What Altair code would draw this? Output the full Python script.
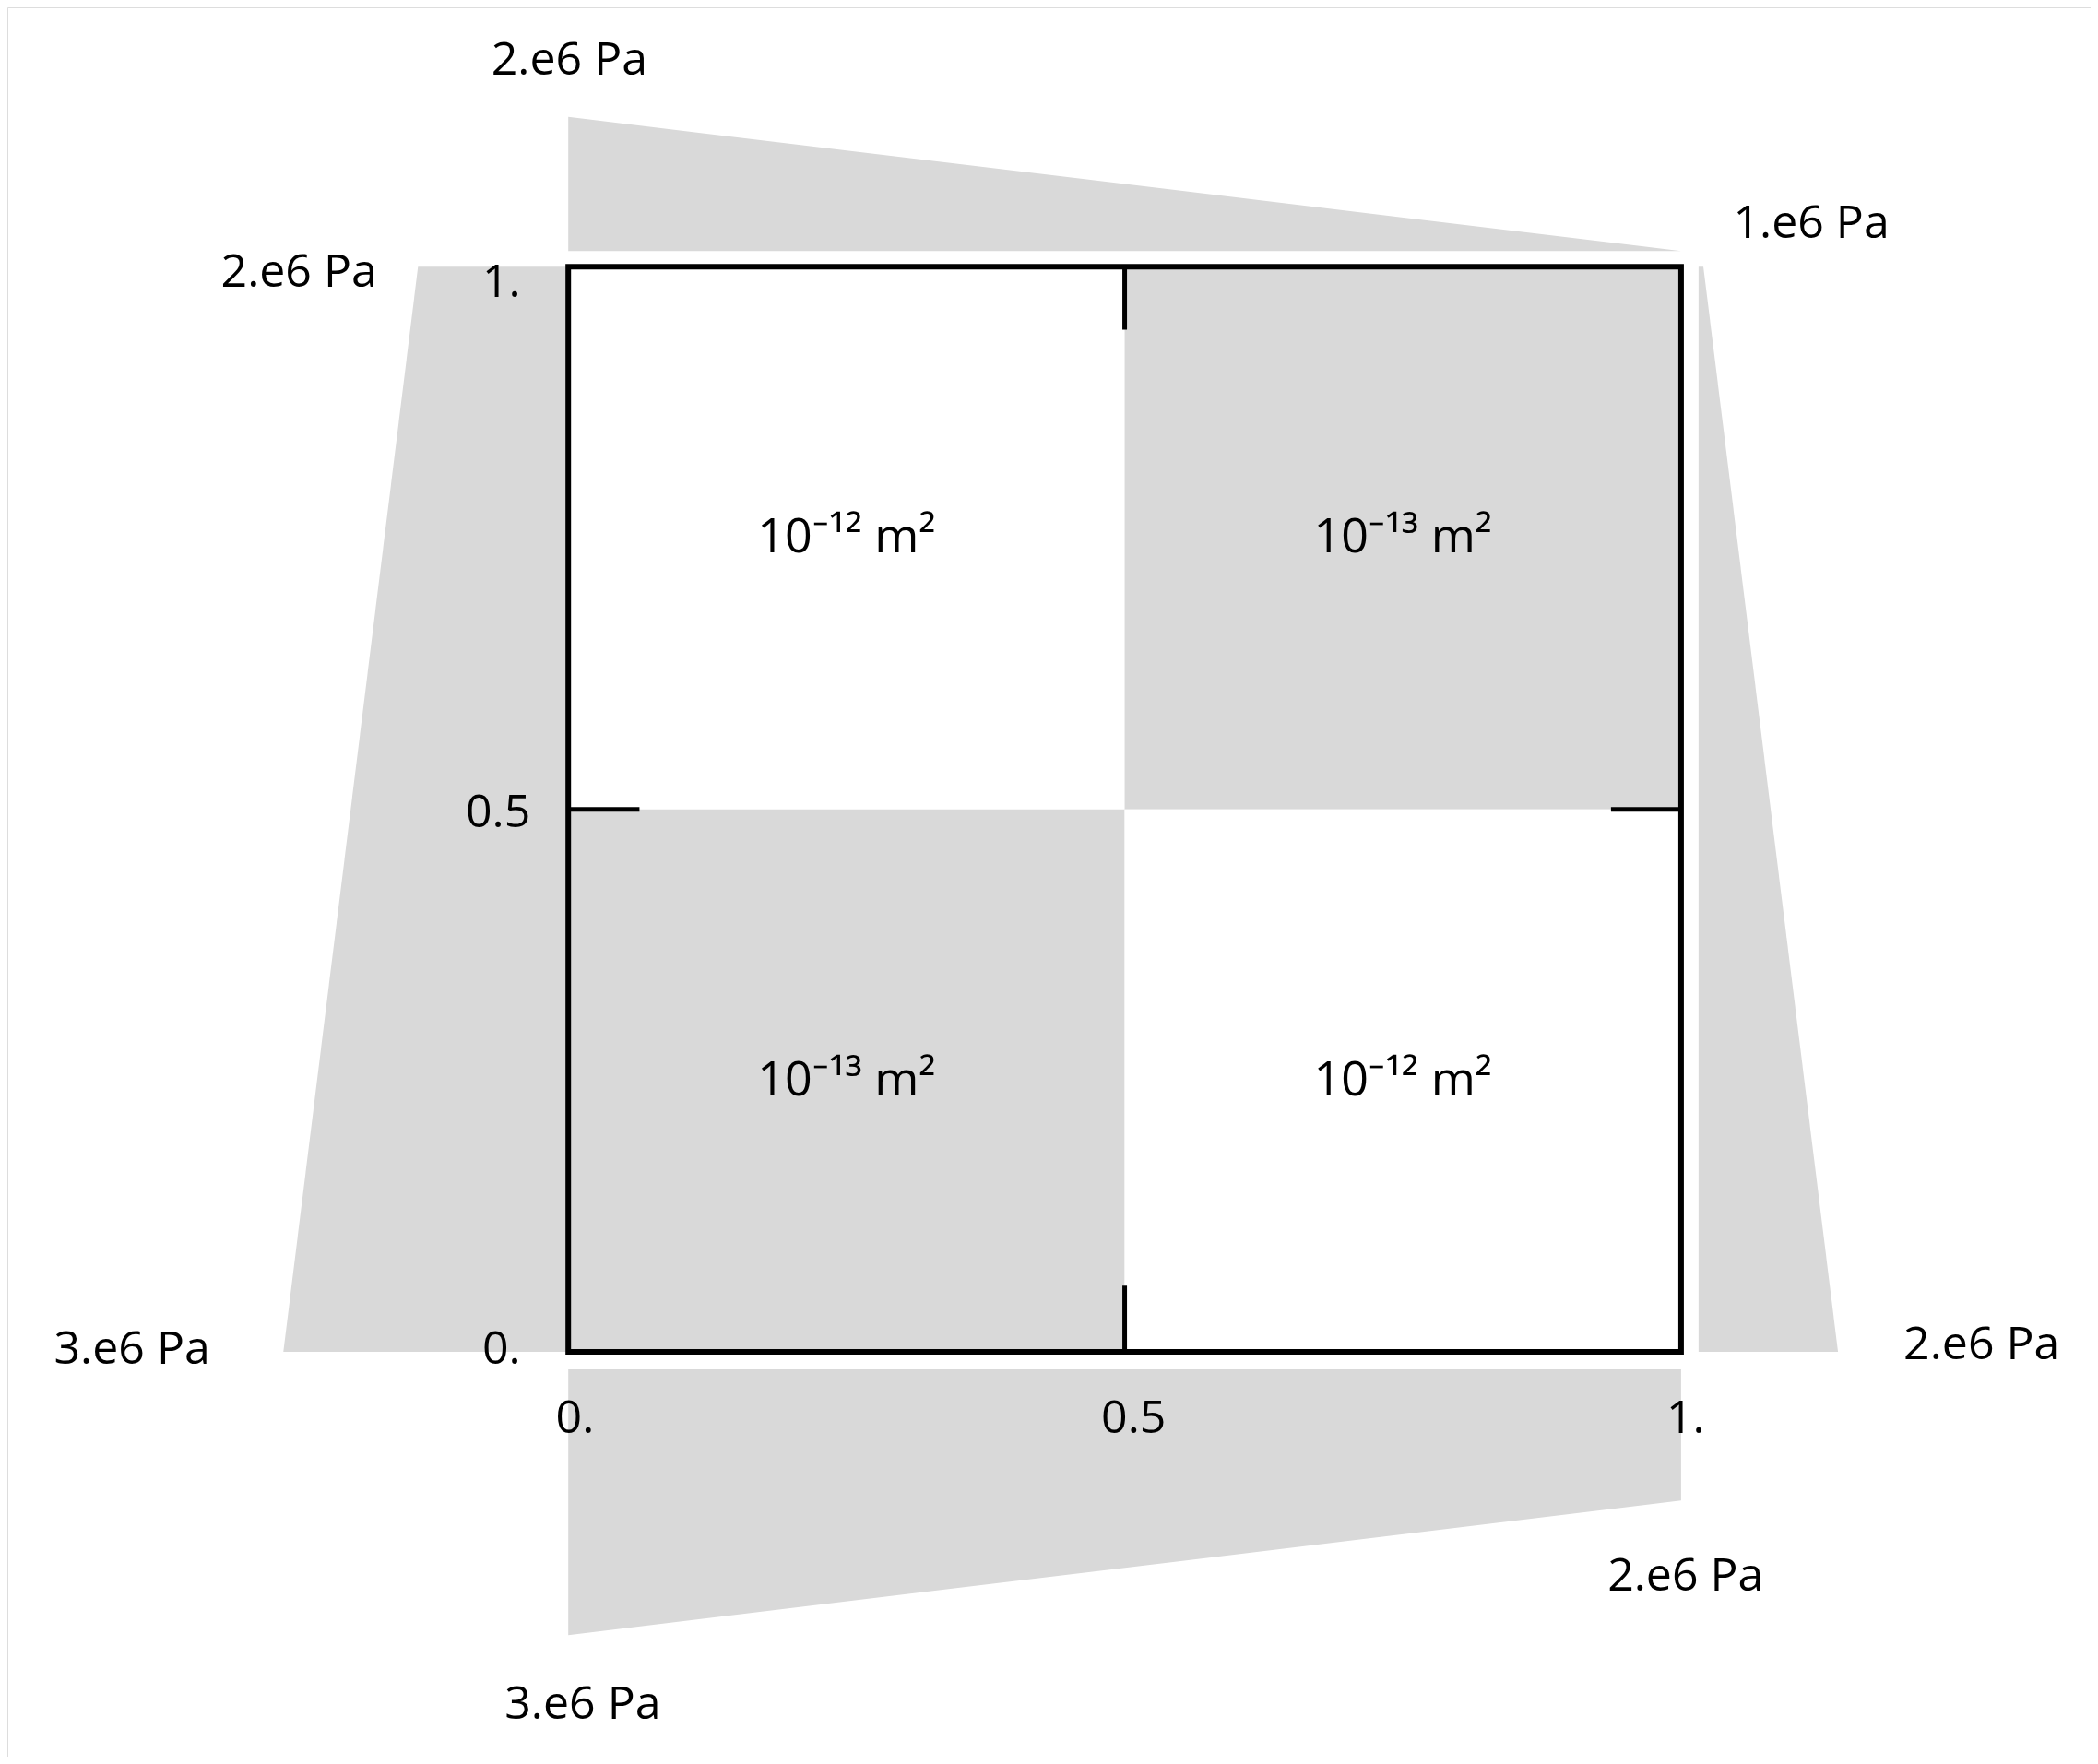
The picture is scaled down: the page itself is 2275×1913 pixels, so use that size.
import altair as alt
import pandas as pd

GREY = "#d9d9d9"
FONT = "Open Sans"

# Pressure boundary trapezoids (data units of the unit square)
top_x = [0.0, 1.0]; top_y = [1.138, 1.0145]; top_y2 = [1.0145, 1.0145]
bot_x = [0.0, 1.0]; bot_y = [-0.261, -0.137]; bot_y2 = [-0.016, -0.016]
left_y = [0.0, 1.0]; left_x = [-0.256, -0.135]; left_x2 = [0.0, 0.0]
right_y = [0.0, 1.0]; right_x = [1.0157, 1.0157]; right_x2 = [1.141, 1.02]

# Permeability quadrants
quad_x = [0.0, 0.5, 0.0, 0.5]
quad_x2 = [0.5, 1.0, 0.5, 1.0]
quad_y = [0.5, 0.5, 0.0, 0.0]
quad_y2 = [1.0, 1.0, 0.5, 0.5]
quad_fill = ["white", GREY, GREY, "white"]
quad_label = ["10⁻¹² m²", "10⁻¹³ m²", "10⁻¹³ m²", "10⁻¹² m²"]

# Pressure labels
p_label = ["2.e6 Pa", "1.e6 Pa", "2.e6 Pa", "3.e6 Pa", "2.e6 Pa", "2.e6 Pa", "3.e6 Pa"]
p_x = [0.001, 1.117, -0.242, -0.392, 1.270, 1.004, 0.013]
p_y = [1.190, 1.039, 0.994, 0.002, 0.006, -0.207, -0.325]

# Tick labels
t_label = ["1.", "0.5", "0.", "0.", "0.5", "1."]
t_x = [-0.060, -0.063, -0.060, 0.006, 0.508, 1.004]
t_y = [0.985, 0.496, 0.002, -0.062, -0.062, -0.062]

# Tick marks at midpoints
k_x = [0.5, 0.5, 0.0, 0.937]
k_x2 = [0.5, 0.5, 0.064, 1.0]
k_y = [1.0, 0.0, 0.5, 0.5]
k_y2 = [0.942, 0.061, 0.5, 0.5]

X = alt.Scale(domain=[-0.504, 1.368], nice=False, zero=False)
Y = alt.Scale(domain=[-0.373, 1.239], nice=False, zero=False)

def xe(f="x"): return alt.X(f"{f}:Q", scale=X, axis=None)
def ye(f="y"): return alt.Y(f"{f}:Q", scale=Y, axis=None)

top = alt.Chart(pd.DataFrame({"x": top_x, "y": top_y, "y2": top_y2})).mark_area(color=GREY).encode(
    x=xe(), y=ye(), y2="y2:Q")
bot = alt.Chart(pd.DataFrame({"x": bot_x, "y": bot_y, "y2": bot_y2})).mark_area(color=GREY).encode(
    x=xe(), y=ye(), y2="y2:Q")
left = alt.Chart(pd.DataFrame({"y": left_y, "x": left_x, "x2": left_x2})).mark_area(color=GREY, orient="horizontal").encode(
    y=ye(), x=xe(), x2="x2:Q")
right = alt.Chart(pd.DataFrame({"y": right_y, "x": right_x, "x2": right_x2})).mark_area(color=GREY, orient="horizontal").encode(
    y=ye(), x=xe(), x2="x2:Q")

qdf = pd.DataFrame({"x": quad_x, "x2": quad_x2, "y": quad_y, "y2": quad_y2, "fill": quad_fill, "label": quad_label,
                    "cx": [(a + b) / 2 for a, b in zip(quad_x, quad_x2)],
                    "cy": [(a + b) / 2 for a, b in zip(quad_y, quad_y2)]})
quads = alt.Chart(qdf).mark_rect().encode(x=xe(), x2="x2:Q", y=ye(), y2="y2:Q",
                                           fill=alt.Fill("fill:N", scale=None))
qtext = alt.Chart(qdf).mark_text(font=FONT, fontSize=52, color="black").encode(
    x=xe("cx"), y=ye("cy"), text="label:N")

outline = alt.Chart(pd.DataFrame({"x": [0.0], "x2": [1.0], "y": [0.0], "y2": [1.0]})).mark_rect(
    fill=None, stroke="black", strokeWidth=6).encode(x=xe(), x2="x2:Q", y=ye(), y2="y2:Q")

ticks = alt.Chart(pd.DataFrame({"x": k_x, "x2": k_x2, "y": k_y, "y2": k_y2})).mark_rule(
    color="black", strokeWidth=5).encode(x=xe(), x2="x2:Q", y=ye(), y2="y2:Q")

ptext = alt.Chart(pd.DataFrame({"x": p_x, "y": p_y, "t": p_label})).mark_text(
    font=FONT, fontSize=50, color="black").encode(x=xe(), y=ye(), text="t:N")
ttext = alt.Chart(pd.DataFrame({"x": t_x, "y": t_y, "t": t_label})).mark_text(
    font=FONT, fontSize=50, color="black").encode(x=xe(), y=ye(), text="t:N")

chart = alt.layer(top, bot, left, right, quads, qtext, outline, ticks, ptext, ttext).properties(
    width=2259, height=1897, padding=0,
    autosize=alt.AutoSizeParams(type="fit", contains="padding"),
).configure_view(stroke=None).configure(background="white")

chart.save("out.html", embed_options={"renderer": "svg", "actions": False})
